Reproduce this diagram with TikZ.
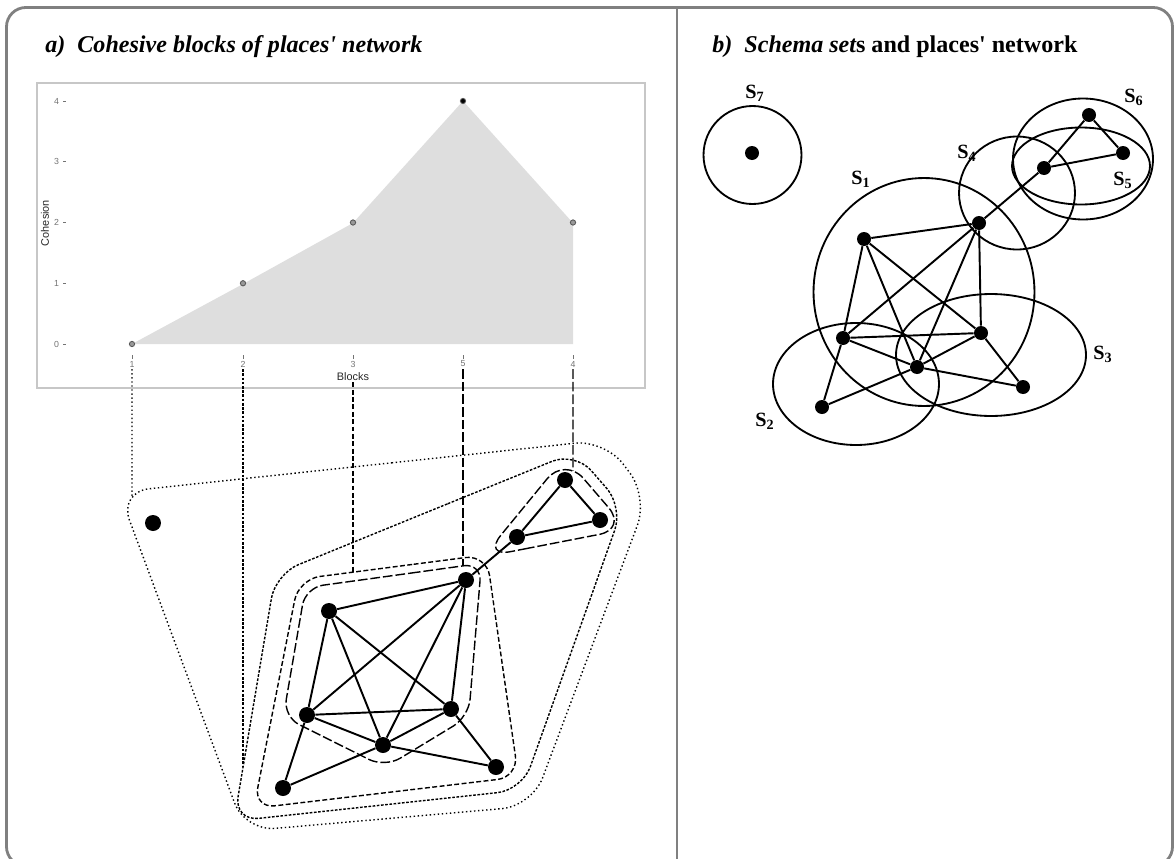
\documentclass[tikz,border=0pt]{standalone}
\usepackage{fontspec}
\setmainfont{Liberation Serif}
\setsansfont{Liberation Sans}
\usetikzlibrary{positioning,intersections,shapes.geometric}

\tikzset{
  frame/.style={draw=black!50, line width=1.6pt},
  place/.style={circle, fill=black, inner sep=0pt, minimum size=0.32cm},
  splace/.style={circle, fill=black, inner sep=0pt, minimum size=0.28cm},
  tie/.style={line width=1.1pt},
  setring/.style={draw, ellipse, line width=1.05pt, inner sep=0pt},
  setlbl/.style={font=\bfseries\fontsize{11.5}{13}\selectfont, inner sep=0pt},
  ptitle/.style={font=\bfseries\fontsize{13.7}{16}\selectfont, anchor=base west, inner sep=0pt},
  chartbox/.style={draw=black!22, line width=0.6pt},
  cpt/.style={circle, draw=black!65, fill=black!40, line width=0.5pt, inner sep=0pt, minimum size=3pt},
  tickmark/.style={draw=black!55, line width=0.45pt},
  ticklbl/.style={font=\sffamily\fontsize{5}{6}\selectfont, text=black!55, inner sep=1pt},
  axlbl/.style={font=\sffamily\fontsize{6.2}{7}\selectfont, text=black!85, inner sep=0.5pt},
  lvl1/.style={line width=0.8pt, dash pattern=on 0.8pt off 1.5pt},
  lvl2/.style={line width=0.8pt, dash pattern=on 1.5pt off 0.9pt},
  lvl3/.style={line width=0.8pt, dash pattern=on 2.8pt off 1.4pt},
  lvl4/.style={line width=0.8pt, dash pattern=on 5.5pt off 1.7pt},
}

\begin{document}
\begin{tikzpicture}[x=0.02cm, y=-0.02cm]
\useasboundingbox (0,0) rectangle (1174,859);

% frame
\draw[frame, rounded corners=11pt] (6.5,7.5) rectangle (1172.5,866);
\draw[frame] (677,7.5) -- (677,866);

\node[ptitle] (titleA) at (45,52) {\itshape a)\ \ Cohesive blocks of places\textquotesingle\ network};
\node[ptitle] (titleB) at (712,52) {\itshape b)\ \ Schema set\upshape s and places\textquotesingle\ network};

% cohesion chart
\draw[chartbox] (37,83) rectangle (645,388);
\fill[black!13] (132,344) -- (243,284) -- (353,223) -- (463,101) -- (573,223) -- (573,344) -- cycle;
\foreach \v in {0,...,4} {
  \draw[tickmark] (63,{344-60.75*\v}) -- (66,{344-60.75*\v});
  \node[ticklbl, anchor=east] (yt\v) at (61,{344-60.75*\v}) {\v};
}
\foreach \k/\x/\c/\col in {1/132/0/black!40, 2/243/1/black!40, 3/353/2/black!40, 5/463/4/black, 4/573/2/black!40} {
  \node[cpt, fill=\col] (pt\k) at (\x,{344-60.75*\c}) {};
  \draw[tickmark] (\x,355) -- (\x,358.5);
  \node[ticklbl] (bk\k) at (\x,364) {\k};
}
\node[axlbl] (xlab) at (353,377) {Blocks};
\node[axlbl, rotate=90] (ylab) at (45,223) {Cohesion};

% places' network, left
\node[place] (lIso) at (153,523) {};
\node[place] (lTop) at (565,480) {};
\node[place] (lRt) at (600,520) {};
\node[place] (lLf) at (517,537) {};
\node[place] (lA) at (466,580) {};
\node[place] (lB) at (329,611) {};
\node[place] (lC) at (307,715) {};
\node[place] (lD) at (451,709) {};
\node[place] (lE) at (383,745) {};
\node[place] (lF) at (283,788) {};
\node[place] (lG) at (496,767) {};

% blocks
\draw[lvl1, rounded corners=17pt, name path=hullA] (362,466) -- (605,440) -- (648,497) -- (532,806) -- (245,831) -- (119,492) -- cycle;
\draw[lvl2, rounded corners=14pt, name path=hullB] (425,513) -- (575,452) -- (623,507) -- (522,790) -- (234,821) -- (275.5,574) -- cycle;
\draw[lvl3, rounded corners=12pt, name path=hullC] (392.7,567) -- (486.6,554.8) -- (518.4,777) -- (253.7,808.3) -- (298.8,579.2) -- cycle;
\draw[lvl4, rounded corners=10pt, name path=hullE] (393.5,575.5) -- (481.5,563.3) -- (468.6,716.8) -- (385,767.4) -- (283.3,716.7) -- (305.5,587.6) -- cycle;
\draw[lvl4, rounded corners=16pt, name path=hullD] (555,543) -- (483,557) -- (565,457) -- (627,529) -- cycle;

% drops from the chart to the blocks
\path[name path=dropA] (bk1.south) -- ++(0,600);
\path[name path=dropB] (bk2.south) -- ++(0,600);
\path[name path=dropC] (xlab.south) -- ++(0,600);
\path[name path=dropE] (bk5.south) -- ++(0,600);
\path[name path=dropD] (bk4.south) -- ++(0,600);
\path[name intersections={of=dropA and hullA, by=endA, sort by=dropA}];
\path[name intersections={of=dropB and hullB, by=endB, sort by=dropB}];
\path[name intersections={of=dropC and hullC, by=endC, sort by=dropC}];
\path[name intersections={of=dropE and hullE, by=endE, sort by=dropE}];
\path[name intersections={of=dropD and hullD, by=endD, sort by=dropD}];
\draw[lvl1] (bk1.south) -- (endA);
\draw[lvl2] (bk2.south) -- (endB);
\draw[lvl3] (xlab.south) -- (endC);
\draw[lvl4] (bk5.south) -- (endE);
\draw[lvl4] (bk4.south) -- (endD);

% places' network, right
\node[splace] (rIso) at (752,153) {};
\node[splace] (rTop) at (1089,115) {};
\node[splace] (rRt) at (1123,153) {};
\node[splace] (rLf) at (1044,168) {};
\node[splace] (rA) at (979,223) {};
\node[splace] (rB) at (864,239) {};
\node[splace] (rC) at (843,338) {};
\node[splace] (rD) at (981,333) {};
\node[splace] (rE) at (917,367) {};
\node[splace] (rF) at (822,407) {};
\node[splace] (rG) at (1023,387) {};

\foreach \s in {l,r}
  \foreach \u/\v in {Top/Rt, Top/Lf, Lf/Rt, Lf/A, A/B, A/C, A/E, A/D, B/C, B/E, B/D, C/D, C/E, C/F, E/D, E/F, E/G, D/G}
    \draw[tie] (\s\u) -- (\s\v);

% schema sets
\node[setring, minimum width=4.42cm, minimum height=4.56cm] (S1) at (924,292) {};
\node[setring, minimum width=3.32cm, minimum height=2.44cm] (S2) at (856,384) {};
\node[setring, minimum width=3.8cm, minimum height=2.44cm] (S3) at (991,355) {};
\node[setring, minimum width=2.32cm, minimum height=2.26cm] (S4) at (1017,193) {};
\node[setring, minimum width=2.76cm, minimum height=1.54cm] (S5) at (1081,166) {};
\node[setring, minimum width=2.8cm, minimum height=2.42cm] (S6) at (1083,159) {};
\node[setring, minimum width=1.96cm, minimum height=1.96cm] (S7) at (752.5,155) {};

\node[setlbl] (lab1) at (861,179) {S\textsubscript{1}};
\node[setlbl] (lab2) at (765,421) {S\textsubscript{2}};
\node[setlbl] (lab3) at (1103,354) {S\textsubscript{3}};
\node[setlbl] (lab4) at (967,153) {S\textsubscript{4}};
\node[setlbl] (lab5) at (1123,180) {S\textsubscript{5}};
\node[setlbl] (lab6) at (1134,97) {S\textsubscript{6}};
\node[setlbl] (lab7) at (755,93) {S\textsubscript{7}};
\end{tikzpicture}
\end{document}
